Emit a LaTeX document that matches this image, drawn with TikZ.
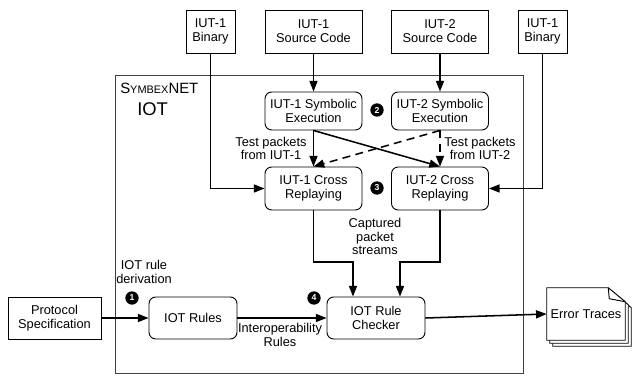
\documentclass[tikz,border=0pt]{standalone}
\usepackage{fontspec}
\setmainfont{Liberation Sans}
\usetikzlibrary{positioning, calc, arrows.meta}
\tikzset{
	boxnode/.style={
			shape=rectangle,
			draw=black,
			line width=0.7pt,
			fill=white,
			align=center,
			inner sep=0pt,
			font=\fontsize{9.6}{10.5}\selectfont
		},
	roundnode/.style={
			boxnode,
			rounded corners=5pt
		},
	stepmark/.style={
			circle,
			fill=black,
			text=white,
			minimum size=10pt,
			inner sep=0pt,
			font=\fontsize{6.5}{7}\selectfont\bfseries
		},
	labeltext/.style={
			align=center,
			inner sep=0pt,
			font=\fontsize{9.6}{10.2}\selectfont
		},
	flow/.style={
			line width=1.15pt,
			-{Triangle[length=8pt, width=6pt]}
		},
	sheet/.style={
			draw=black,
			line width=0.7pt,
			fill=white
		}
}

\begin{document}
\begin{tikzpicture}[x=0.75pt, y=-0.75pt]

  \useasboundingbox (0,0) rectangle (632,375);

  % outer frame
  \draw[line width=0.7pt, draw=black!75] (115,75) rectangle (523,373);
  \node[anchor=base west, inner sep=0pt] (title) at (120,93)
    {\fontsize{11.2}{12}\selectfont S\fontsize{8.2}{12}\selectfont YMBEX\fontsize{11.2}{12}\selectfont NET};
  \node[anchor=base west, inner sep=0pt] (iot) at (137,115) {\fontsize{13.8}{15}\selectfont IOT};

  % inputs
  \node[boxnode, minimum width=36.75pt, minimum height=32.25pt] (bin1) at (210.5,31.5) {IUT-1\\Binary};
  \node[boxnode, minimum width=72.75pt, minimum height=32.25pt] (src1) at (313.5,31.5) {IUT-1\\Source Code};
  \node[boxnode, minimum width=72.75pt, minimum height=32.25pt] (src2) at (440,31.5) {IUT-2\\Source Code};
  \node[boxnode, minimum width=36.75pt, minimum height=32.25pt] (bin2) at (542.5,31.5) {IUT-1\\Binary};
  \node[boxnode, minimum width=69.75pt, minimum height=31.5pt] (spec) at (54.5,318) {Protocol\\Specification};

  % steps
  \node[roundnode, minimum width=72.75pt, minimum height=28.5pt] (sym1) at (313.5,111) {IUT-1 Symbolic\\Execution};
  \node[roundnode, minimum width=72.75pt, minimum height=28.5pt] (sym2) at (440,111) {IUT-2 Symbolic\\Execution};
  \node[roundnode, minimum width=72.75pt, minimum height=32.25pt] (rep1) at (313.5,188.5) {IUT-1 Cross\\Replaying};
  \node[roundnode, minimum width=72.75pt, minimum height=32.25pt] (rep2) at (440,188.5) {IUT-2 Cross\\Replaying};
  \node[roundnode, minimum width=66pt, minimum height=31.5pt] (rules) at (193,318) {IOT Rules};
  \node[roundnode, minimum width=73.5pt, minimum height=31.5pt] (checker) at (376,318) {IOT Rule\\Checker};

  % error traces
  \node[minimum width=58.5pt, minimum height=39pt, inner sep=0pt] (traces) at (586,314) {};
  \foreach \d in {6,3,0} {
    \draw[sheet] ($(traces.south west)+(\d,\d)$) -- ($(traces.north west)+(\d,\d)$)
      -- ($(traces.north east)+(\d-17,\d)$) -- ($(traces.north east)+(\d,\d+14)$)
      -- ($(traces.south east)+(\d,\d)$) -- cycle;
  }
  \draw[line width=0.7pt] ($(traces.north east)+(-17,0)$) -- ($(traces.north east)+(-16,11)$)
    -- ($(traces.north east)+(0,14)$);
  \node[labeltext] at (traces.center) {Error Traces};

  % step marks
  \node[stepmark] (s1) at (132,298) {1};
  \node[stepmark] (s2) at (377,110) {2};
  \node[stepmark] (s3) at (377,188) {3};
  \node[stepmark] (s4) at (314,298) {4};

  % connectors
  \draw[flow] (bin1.south) |- (rep1.west);
  \draw[flow] (bin2.south) |- (rep2.east);
  \draw[flow] (src1.south) -- (sym1.north);
  \draw[flow] (src2.south) -- (sym2.north);
  \draw[flow] (sym1.south) -- (rep1.north);
  \draw[flow] (sym1.south) -- (rep2.north);
  \draw[flow, dashed, dash pattern=on 6pt off 4pt] (sym2.south) -- (rep1.north);
  \draw[flow, dashed, dash pattern=on 6pt off 4pt] (sym2.south) -- (rep2.north);

  \coordinate (j1) at (353,262);
  \coordinate (j2) at (400,262);
  \draw[flow] (rep1.south) |- (j1) -- (j1 |- checker.north);
  \draw[flow] (rep2.south) |- (j2) -- (j2 |- checker.north);

  \draw[flow] (spec.east) -- (rules.west);
  \draw[flow] (rules.east) -- (checker.west);
  \draw[flow] (checker.east) -- (traces.west);

  % labels
  \node[labeltext] (l1) at (271,148.5) {Test packets\\from IUT-1};
  \node[labeltext] (l2) at (480,148.5) {Test packets\\from IUT-2};
  \node[labeltext] (l3) at (375,236.5) {Captured\\packet\\streams};
  \node[labeltext] (l4) at (144,272) {IOT rule\\derivation};
  \node[labeltext] (l5) at (280,335) {Interoperability\\Rules};

\end{tikzpicture}
\end{document}
